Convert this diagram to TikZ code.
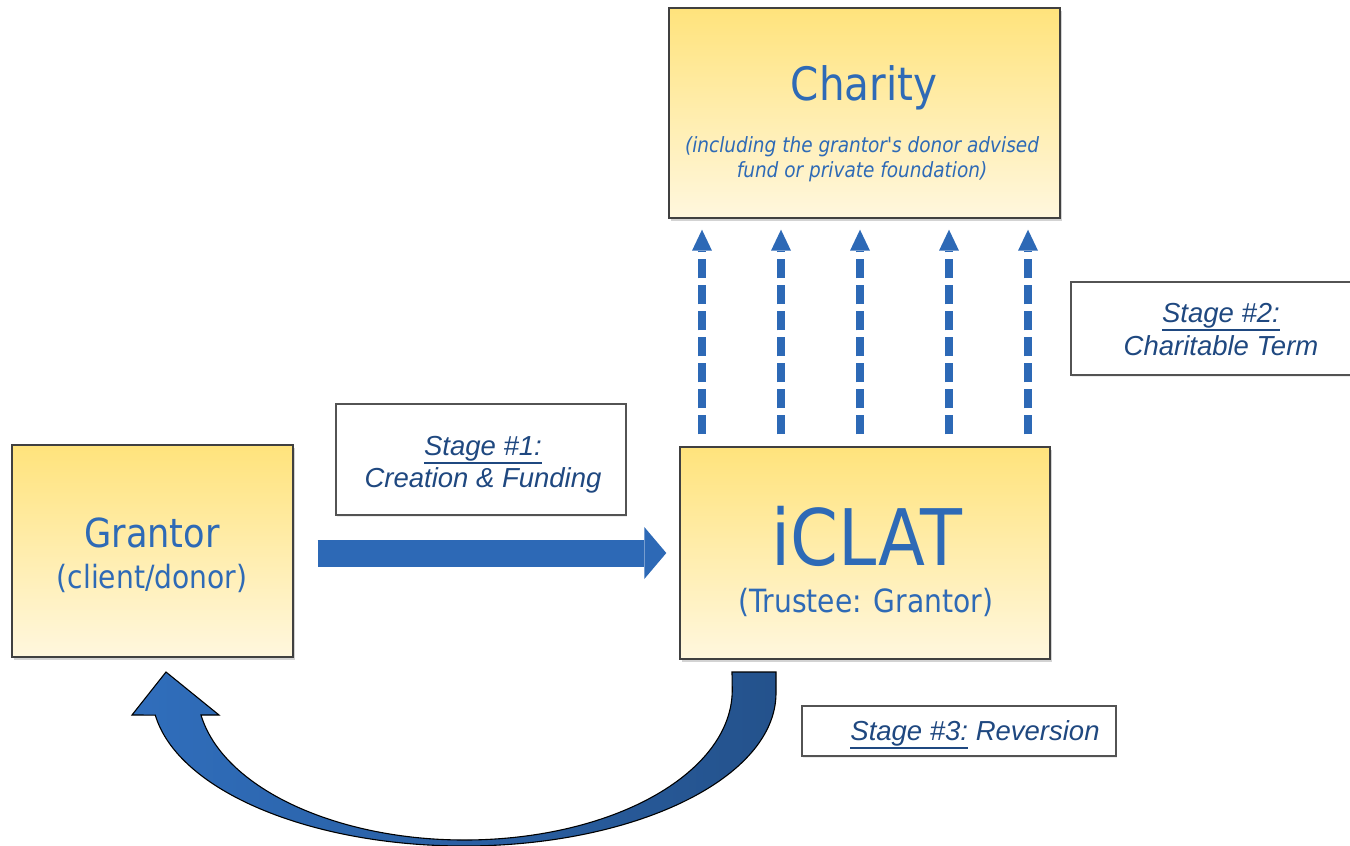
\documentclass[tikz,border=0pt]{standalone}
\usepackage{fontspec}
\usetikzlibrary{arrows.meta,shadows,calc}
\newfontfamily\tah[FakeStretch=0.88]{DejaVu Sans}
\newfontfamily\arialf{Liberation Sans}
\definecolor{boxtop}{RGB}{255,227,124}
\definecolor{boxbot}{RGB}{255,247,222}
\definecolor{boxline}{RGB}{64,64,64}
\definecolor{nametxt}{RGB}{46,106,182}
\definecolor{stagetxt}{RGB}{31,72,128}
\definecolor{flowblue}{RGB}{45,105,182}
\definecolor{arcleft}{RGB}{48,110,188}
\definecolor{arcright}{RGB}{36,82,140}
\newcommand\stageul[1]{\vtop{\hbox{#1}\kern1.6pt\hrule height 1.6pt}}
\tikzset{
  entity/.style={draw=boxline, line width=1.4pt, top color=boxtop, bottom color=boxbot,
    inner sep=0pt, drop shadow={opacity=0.35, shadow xshift=1.5pt, shadow yshift=-3pt}},
  stagebox/.style={draw=boxline!90, line width=1.2pt, fill=white, inner sep=0pt,
    drop shadow={opacity=0.15, shadow xshift=1pt, shadow yshift=-2pt}},
  nametext/.style={anchor=base, text=nametxt, inner sep=0pt, font=\tah},
  stagetext/.style={anchor=base, text=stagetxt, inner sep=0pt, font=\arialf\itshape\fontsize{27.5}{30}\selectfont},
  fundarrow/.style={draw=flowblue, line width=27pt,
    -{Triangle[length=22pt, width=52pt, line width=0pt]}},
  termarrow/.style={draw=flowblue, line width=8pt, dash pattern=on 19pt off 7pt,
    -{Triangle[length=21pt, width=20pt, line width=0pt]}, shorten <=12pt, shorten >=11pt},
  revarrow/.style={draw=black, line width=1.1pt, left color=arcleft, right color=arcright,
    line join=miter}
}
\begin{document}
\begin{tikzpicture}[x=1pt, y=-1pt]
\useasboundingbox (0,0) rectangle (1350,846);

% entity boxes
\node[entity, minimum width=391pt, minimum height=210pt] (charity) at (864.5,113) {};
\node[entity, minimum width=281pt, minimum height=212pt] (grantor) at (152.5,551) {};
\node[entity, minimum width=370pt, minimum height=212pt] (iclat) at (865,553) {};

% stage labels
\node[stagebox, minimum width=290pt, minimum height=111pt] (stage1) at (481,459.5) {};
\node[stagebox, minimum width=340pt, minimum height=93pt] (stage2) at (1241,328.5) {};
\node[stagebox, minimum width=314pt, minimum height=50pt] (stage3) at (959,731) {};

% entity texts
\node[nametext, font=\tah\fontsize{46}{50}\selectfont] (charityname) at (864,100) {Charity};
\node[nametext, font=\tah\itshape\fontsize{21}{25}\selectfont] (charitynote1) at (862,152) {(including the grantor's donor advised};
\node[nametext, font=\tah\itshape\fontsize{21}{25}\selectfont] (charitynote2) at (862,177) {fund or private foundation)};
\node[nametext, font=\tah\fontsize{40}{44}\selectfont] (grantorname) at (152,547) {Grantor};
\node[nametext, font=\tah\fontsize{32}{36}\selectfont] (grantorrole) at (152,588) {(client/donor)};
\node[nametext, font=\tah\fontsize{78}{80}\selectfont] (iclatname) at (867,565) {iCLAT};
\node[nametext, font=\tah\fontsize{32}{36}\selectfont] (iclatrole) at (866,612) {(Trustee: Grantor)};

% stage texts
\node[stagetext] (s1a) at (483,455) {\stageul{Stage \#1:}};
\node[stagetext] (s1b) at (483,487) {Creation \& Funding};
\node[stagetext] (s2a) at (1221,322) {\stageul{Stage \#2:}};
\node[stagetext] (s2b) at (1221,355) {Charitable Term};
\node[stagetext] (s3) at (975,740) {\stageul{Stage \#3:} Reversion};

% stage 1: creation and funding
\draw[fundarrow] ([xshift=24pt, yshift=-2pt]grantor.east) -- ([xshift=-13pt, yshift=-2pt]grantor.east -| iclat.west);

% stage 2: payments to charity
\foreach \x in {702,781,860,949,1028}
  \draw[termarrow] (iclat.north -| \x,0) -- (charity.south -| \x,0);

% stage 3: reversion to the grantor
\draw[revarrow]
  (776,672) -- (776,693)
  arc[start angle=0, end angle=171.7, x radius=312, y radius=153]
  -- (132,715) -- (166,672) -- (219,715) -- (201,715)
  arc[start angle=170.4, end angle=0, x radius=267.5, y radius=150]
  -- (732,672) -- cycle;
\end{tikzpicture}
\end{document}
